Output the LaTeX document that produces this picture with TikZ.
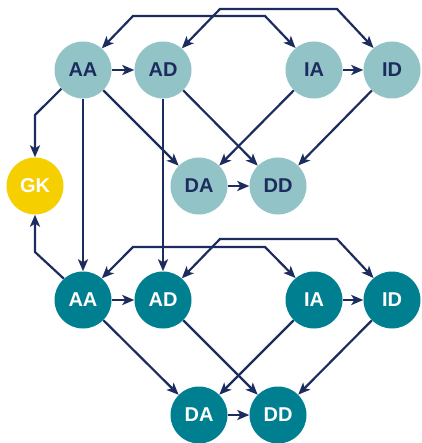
\documentclass[tikz,border=0pt]{standalone}
\usepackage{fontspec}
\setmainfont{Liberation Sans}
\usetikzlibrary{arrows.meta}
\definecolor{lteal}{HTML}{92C3C7}
\definecolor{dteal}{HTML}{007F91}
\definecolor{gold}{HTML}{F5CF00}
\definecolor{navy}{HTML}{1D2C5E}
\begin{document}
\begin{tikzpicture}[x=1pt,y=-1pt,
  nd/.style={circle,minimum size=57pt,inner sep=0pt,font=\fontsize{20}{20}\selectfont\bfseries},
  topnd/.style={nd,fill=lteal,text=navy},
  botnd/.style={nd,fill=dteal,text=white},
  gknd/.style={nd,fill=gold,text=white},
  con/.style={draw=navy,line width=2.2pt,-{Stealth[length=12pt,width=10pt,inset=3pt]}},
  bicon/.style={draw=navy,line width=2.2pt,{Stealth[length=12pt,width=10pt,inset=3pt]}-{Stealth[length=12pt,width=10pt,inset=3pt]}}]
\useasboundingbox[fill=white] (0,0) rectangle (421,443);
% top row
\node[topnd] (tAA) at (83,70) {AA};
\node[topnd] (tAD) at (163,70) {AD};
\node[topnd] (tIA) at (314,70) {IA};
\node[topnd] (tID) at (392,70) {ID};
\node[topnd] (tDA) at (199,186) {DA};
\node[topnd] (tDD) at (278,186) {DD};
\node[gknd] (GK) at (35,186) {GK};
% bottom row
\node[botnd] (bAA) at (83,300) {AA};
\node[botnd] (bAD) at (163,300) {AD};
\node[botnd] (bIA) at (314,300) {IA};
\node[botnd] (bID) at (392,300) {ID};
\node[botnd] (bDA) at (199,415) {DA};
\node[botnd] (bDD) at (278,415) {DD};
% corner coordinates
\coordinate (c1) at (133,16);
\coordinate (c2) at (265,16);
\coordinate (c3) at (220,9);
\coordinate (c4) at (337,9);
\coordinate (c5) at (133,247);
\coordinate (c6) at (265,247);
\coordinate (c7) at (220,239);
\coordinate (c8) at (337,239);
\coordinate (g1) at (35,115);
\coordinate (g2) at (35,252);
% top connectors
\draw[bicon] (tAA.49) -- (c1) -- (c2) -- (tIA.130);
\draw[bicon] (tAD.49) -- (c3) -- (c4) -- (tID.130);
\draw[con] (tAA) -- (tAD);
\draw[con] (tIA) -- (tID);
\draw[con] (tAA) -- (tDA);
\draw[con] (tAD) -- (tDD);
\draw[con] (tIA) -- (tDA);
\draw[con] (tID) -- (tDD);
\draw[con] (tDA) -- (tDD);
\draw[con] (tAA.221) -- (g1) -- (GK.north);
\draw[con] (tAA.south) -- (bAA.north);
\draw[con] (tAD.south) -- (bAD.north);
% bottom connectors
\draw[bicon] (bAA.49) -- (c5) -- (c6) -- (bIA.130);
\draw[bicon] (bAD.49) -- (c7) -- (c8) -- (bID.130);
\draw[con] (bAA) -- (bAD);
\draw[con] (bIA) -- (bID);
\draw[con] (bAA) -- (bDA);
\draw[con] (bAD) -- (bDD);
\draw[con] (bIA) -- (bDA);
\draw[con] (bID) -- (bDD);
\draw[con] (bDA) -- (bDD);
\draw[con] (bAA.132) -- (g2) -- (GK.south);
\end{tikzpicture}
\end{document}
